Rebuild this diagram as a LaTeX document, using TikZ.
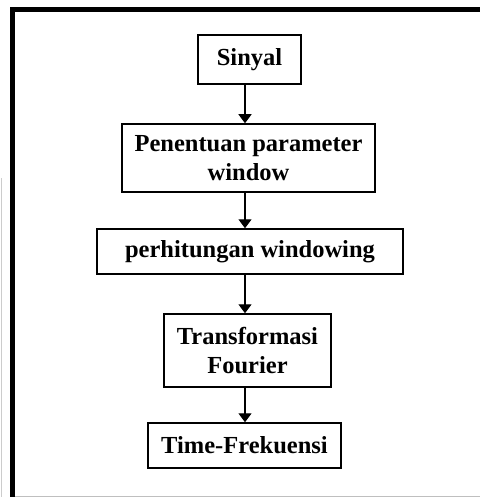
\documentclass[tikz,border=0pt]{standalone}
\usepackage{fontspec}
\setmainfont{Liberation Serif}
\usetikzlibrary{arrows.meta}
\begin{document}
\begin{tikzpicture}[x=1pt,y=-1pt,
  stepbox/.style={draw=black,line width=1.5pt,fill=white,align=center,
    font=\fontsize{24.5}{29}\selectfont\bfseries,inner sep=0pt},
  flow/.style={line width=1.4pt,-{Triangle[width=13pt,length=9pt]}}]
  \useasboundingbox (0,0) rectangle (480,497);
  \fill[white] (0,0) rectangle (480,497);
  % frame edges
  \draw[line width=5pt] (12.5,497) -- (12.5,9.5) -- (480,9.5);
  \draw[black!25,line width=1pt] (15,496) -- (480,496);
  \draw[black!20,line width=1pt] (1,178) -- (1,497);
  % process steps
  \node[stepbox,minimum width=103pt,minimum height=49pt] (s1) at (249.5,59.5) {Sinyal};
  \node[stepbox,minimum width=253pt,minimum height=68pt] (s2) at (248.5,158) {Penentuan parameter\\window};
  \node[stepbox,minimum width=306pt,minimum height=45pt] (s3) at (250,251.5) {perhitungan windowing};
  \node[stepbox,minimum width=167pt,minimum height=73pt] (s4) at (247.5,350.5) {Transformasi\\Fourier};
  \node[stepbox,minimum width=193pt,minimum height=45pt] (s5) at (244.5,445.5) {Time-Frekuensi};
  % connectors
  \coordinate (ax) at (245,0);
  \draw[flow] (s1.south -| ax) -- (s2.north -| ax);
  \draw[flow] (s2.south -| ax) -- (s3.north -| ax);
  \draw[flow] (s3.south -| ax) -- (s4.north -| ax);
  \draw[flow] (s4.south -| ax) -- (s5.north -| ax);
\end{tikzpicture}
\end{document}
